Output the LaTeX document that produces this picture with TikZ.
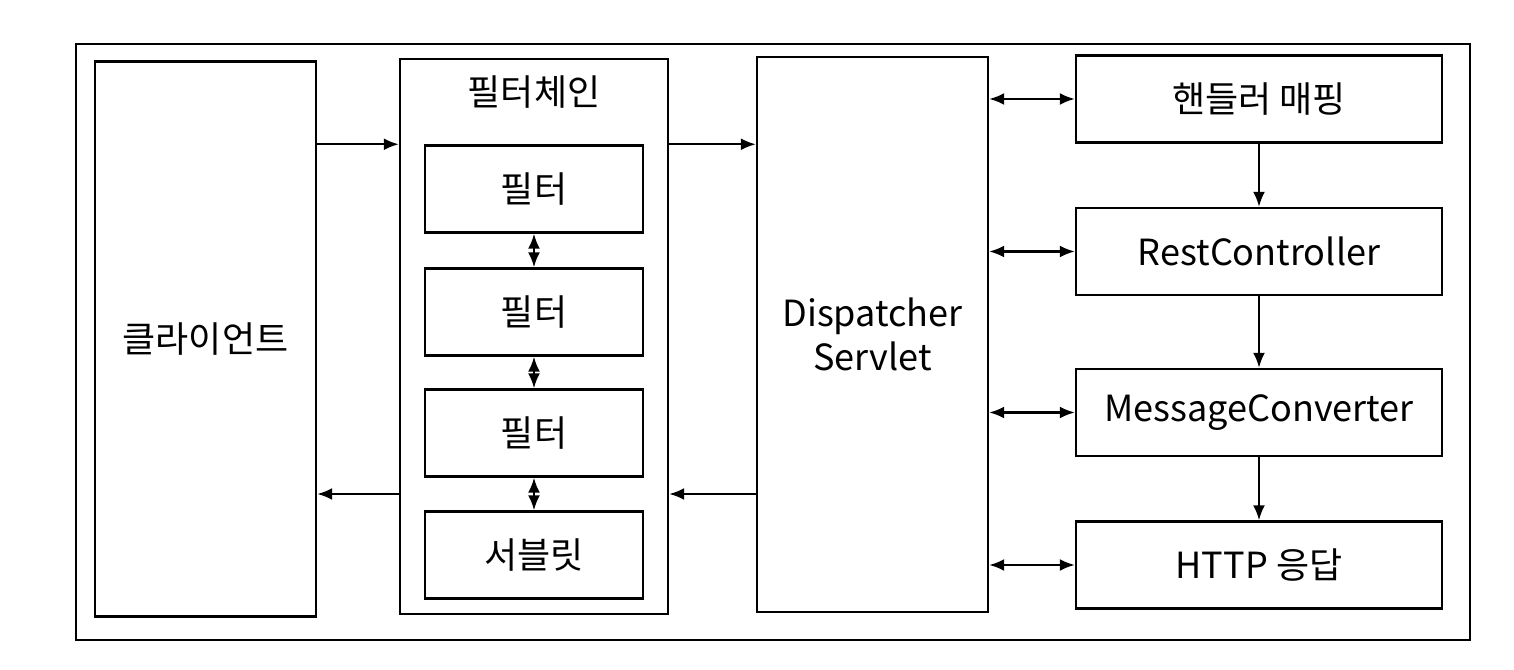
\documentclass[tikz,border=0pt]{standalone}
\usepackage{fontspec}
\setmainfont{Noto Sans CJK KR}
\usetikzlibrary{arrows.meta,calc}

\begin{document}
\begin{tikzpicture}[
    font=\fontsize{20.5}{25}\selectfont,
    >={Latex[length=3mm,width=2.4mm]},
    box/.style={draw, line width=1.4pt, rectangle, align=center, inner sep=0pt},
    tallbox/.style={box, minimum height=11.1cm},
    fbox/.style={box, minimum width=4.36cm, minimum height=1.74cm},
    rbox/.style={box, minimum width=7.32cm, minimum height=1.74cm},
    link/.style={line width=1.2pt},
]
\useasboundingbox (0,0) rectangle (30.28,13.4);

% Outer frame
\draw[line width=1.4pt] (1.52,0.6) rectangle (29.4,12.52);

% Client
\node[tallbox, minimum width=4.42cm] (client) at (4.11, 6.62) {클라이언트};

% Filter chain
\node[tallbox, minimum width=5.36cm] (chain) at (10.68, 6.67) {};
\node (chaintitle) at (10.68, 11.56) {필터체인};
\node[fbox] (f1) at (10.68, 9.62) {필터};
\node[fbox] (f2) at (10.68, 7.16) {필터};
\node[fbox] (f3) at (10.68, 4.74) {필터};
\node[fbox] (srv) at (10.68, 2.30) {서블릿};

% Dispatcher servlet
\node[tallbox, minimum width=4.62cm] (disp) at (17.45, 6.71) {Dispatcher\\Servlet};

% Right column
\node[rbox] (hm) at (25.18, 11.42) {핸들러 매핑};
\node[rbox] (rc) at (25.18, 8.37) {RestController};
\node[rbox] (mc) at (25.18, 5.15) {MessageConverter};
\node[rbox] (resp) at (25.18, 2.10) {HTTP 응답};

% Request path
\draw[link, ->] (client.east |- f1.north) -- (chain.west |- f1.north);
\draw[link, ->] (chain.east |- f1.north) -- (disp.west |- f1.north);

% Response path
\coordinate (low) at ($(f3.south)!0.5!(srv.north)$);
\draw[link, ->] (disp.west |- low) -- (chain.east |- low);
\draw[link, ->] (chain.west |- low) -- (client.east |- low);

% Inside the chain
\draw[link, <->] (f1) -- (f2);
\draw[link, <->] (f2) -- (f3);
\draw[link, <->] (f3) -- (srv);

% Dispatcher to the right column
\foreach \b in {hm, rc, mc, resp}
    \draw[link, <->] (disp.east |- \b) -- (\b.west);

% Down the right column
\draw[link, ->] (hm) -- (rc);
\draw[link, ->] (rc) -- (mc);
\draw[link, ->] (mc) -- (resp);

\end{tikzpicture}
\end{document}
